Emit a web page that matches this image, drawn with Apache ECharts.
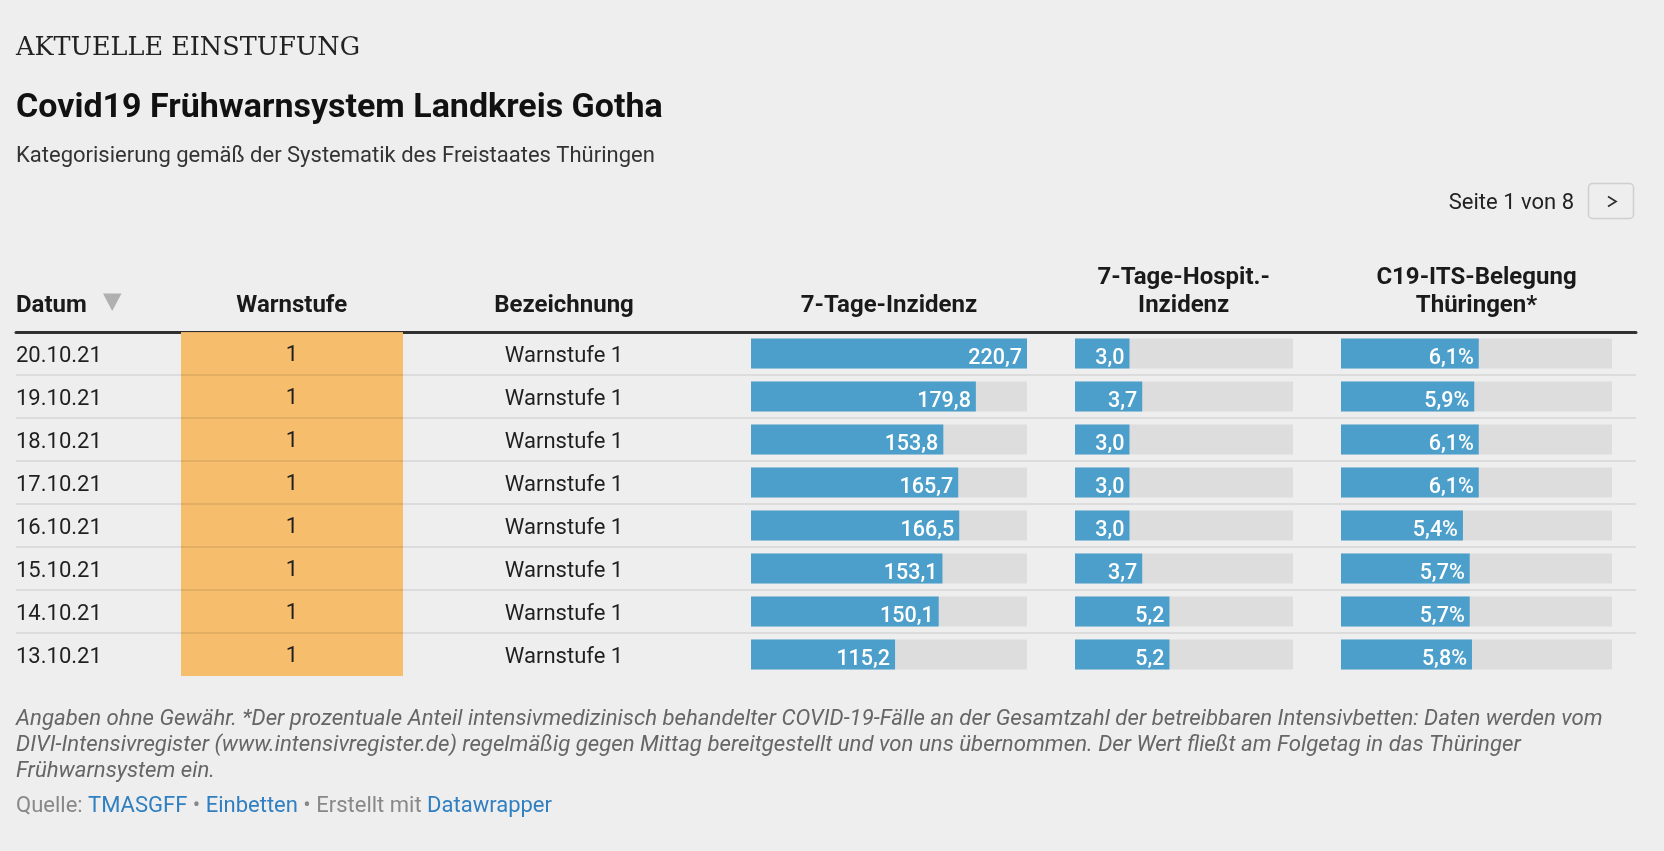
<!DOCTYPE html>
<html>
<head>
    <meta charset="utf-8">
    <script src="https://cdn.jsdelivr.net/npm/echarts@6/dist/echarts.min.js"></script>
    <style>
        html, body { margin: 0; padding: 0; background: #eeeeee; }
    </style>
</head>
<body>
    <div id="main" style="width: 1664px;height:851px;"></div>
    <script type="text/javascript">
        // Tabellendaten (Seite 1 von 8)
        var dates = ['20.10.21', '19.10.21', '18.10.21', '17.10.21', '16.10.21', '15.10.21', '14.10.21', '13.10.21'];
        var warnstufe = [1, 1, 1, 1, 1, 1, 1, 1];
        var bezeichnung = ['Warnstufe 1', 'Warnstufe 1', 'Warnstufe 1', 'Warnstufe 1', 'Warnstufe 1', 'Warnstufe 1', 'Warnstufe 1', 'Warnstufe 1'];
        var inzidenz = [220.7, 179.8, 153.8, 165.7, 166.5, 153.1, 150.1, 115.2];
        var hospit = [3.0, 3.7, 3.0, 3.0, 3.0, 3.7, 5.2, 5.2];
        var itsBelegung = [6.1, 5.9, 6.1, 6.1, 5.4, 5.7, 5.7, 5.8];
        var hospitMax = 12;
        var itsMax = 12;

        var FONT = 'Roboto, "Noto Sans", sans-serif';
        var rowTop = 332, rowH = 43;
        var tableH = rowH * dates.length;

        function deNum(v, suffix) {
            return v.toFixed(1).replace('.', ',') + (suffix || '');
        }

        function barSeries(idx, data, suffix) {
            return {
                type: 'bar',
                xAxisIndex: idx,
                yAxisIndex: idx,
                data: data,
                barWidth: 30,
                silent: true,
                showBackground: true,
                backgroundStyle: { color: '#dddddd' },
                itemStyle: { color: '#4c9fca' },
                label: {
                    show: true,
                    position: 'insideRight',
                    distance: 5,
                    offset: [0, 5],
                    color: '#ffffff',
                    fontFamily: FONT,
                    fontSize: 21.5,
                    fontWeight: 500,
                    formatter: function (p) { return deNum(p.value, suffix); }
                }
            };
        }

        function hiddenCat(idx) {
            return {
                gridIndex: idx, type: 'category', data: dates, inverse: true,
                axisLine: { show: false }, axisTick: { show: false },
                axisLabel: { show: false }, splitLine: { show: false }
            };
        }

        function hiddenVal(idx, max) {
            return { gridIndex: idx, type: 'value', min: 0, max: max, show: false };
        }

        function txt(x, y, text, font, color, align) {
            return {
                type: 'text', x: x, y: y, silent: true,
                style: {
                    text: text, font: font, fill: color || '#1a1a1a',
                    textAlign: align || 'left', textVerticalAlign: 'middle',
                    lineHeight: 28.5
                }
            };
        }

        // Zelltext etwas tiefer setzen, wie im Original
        var cellRich = {
            c: { fontFamily: FONT, fontSize: 22, color: '#1f1f1f', padding: [5, 0, 0, 0] }
        };

        var myChart = echarts.init(document.getElementById('main'));

        myChart.setOption({
            backgroundColor: '#eeeeee',
            animation: false,
            grid: [
                // Linien der Tabelle
                { left: 16, width: 1620, top: rowTop, height: rowH * (dates.length - 1), outerBoundsMode: 'none' },
                // Warnstufe
                { left: 181, width: 222, top: rowTop, height: tableH, outerBoundsMode: 'none' },
                // 7-Tage-Inzidenz
                { left: 751, width: 276, top: rowTop, height: tableH, outerBoundsMode: 'none' },
                // 7-Tage-Hospit.-Inzidenz
                { left: 1075, width: 218, top: rowTop, height: tableH, outerBoundsMode: 'none' },
                // C19-ITS-Belegung
                { left: 1341, width: 271, top: rowTop, height: tableH, outerBoundsMode: 'none' }
            ],
            xAxis: [
                {
                    gridIndex: 0, type: 'value', min: 0, max: 1, position: 'top',
                    axisLine: { show: true, lineStyle: { color: '#333333', width: 3 } },
                    axisTick: { show: false }, axisLabel: { show: false }, splitLine: { show: false }
                },
                hiddenVal(1, 1),
                hiddenVal(2, 'dataMax'),
                hiddenVal(3, hospitMax),
                hiddenVal(4, itsMax)
            ],
            yAxis: [
                {
                    gridIndex: 0, type: 'value', min: 0, max: dates.length - 1, interval: 1,
                    inverse: true, z: 5,
                    axisLine: { show: false }, axisTick: { show: false }, axisLabel: { show: false },
                    splitLine: { show: true, lineStyle: { color: 'rgba(0,0,0,0.075)', width: 2 } }
                },
                {
                    gridIndex: 1, type: 'category', data: dates, inverse: true,
                    axisLine: { show: false }, axisTick: { show: false }, splitLine: { show: false },
                    axisLabel: {
                        interval: 0, margin: 165, align: 'left',
                        formatter: function (v) { return '{c|' + v + '}'; },
                        rich: cellRich
                    }
                },
                {
                    gridIndex: 2, type: 'category', data: dates, inverse: true,
                    axisLine: { show: false }, axisTick: { show: false }, splitLine: { show: false },
                    axisLabel: {
                        interval: 0, margin: 187, align: 'center',
                        formatter: function (v, i) { return '{c|' + bezeichnung[i] + '}'; },
                        rich: cellRich
                    }
                },
                hiddenCat(3),
                hiddenCat(4)
            ],
            series: [
                {
                    type: 'bar',
                    xAxisIndex: 1,
                    yAxisIndex: 1,
                    data: warnstufe,
                    barCategoryGap: '0%',
                    silent: true,
                    itemStyle: { color: '#f5bd6c' },
                    label: {
                        show: true, position: 'inside', color: '#1f1f1f',
                        offset: [0, 2],
                        fontFamily: FONT, fontSize: 22,
                        formatter: '{c}'
                    }
                },
                barSeries(2, inzidenz, ''),
                barSeries(3, hospit, ''),
                barSeries(4, itsBelegung, '%')
            ],
            graphic: [
                txt(16, 48.5, 'AKTUELLE EINSTUFUNG', 'normal 25.5px "DejaVu Serif", serif', '#222222'),
                txt(16, 108.5, 'Covid19 Frühwarnsystem Landkreis Gotha', 'bold 34px ' + FONT, '#111111'),
                txt(16, 156, 'Kategorisierung gemäß der Systematik des Freistaates Thüringen', 'normal 22px ' + FONT, '#333333'),
                txt(1574, 203, 'Seite 1 von 8', 'normal 22px ' + FONT, '#222222', 'right'),
                {
                    type: 'rect', silent: true,
                    shape: { x: 1588.5, y: 183.5, width: 45, height: 35, r: 4 },
                    style: { fill: 'rgba(0,0,0,0)', stroke: '#cfcfcf', lineWidth: 1.5 }
                },
                {
                    type: 'polyline', silent: true,
                    shape: { points: [[1608, 196.5], [1616, 201.5], [1608, 206.5]] },
                    style: { stroke: '#333333', lineWidth: 1.8, fill: null }
                },
                // Spaltenköpfe
                txt(16, 306, 'Datum', 'bold 24px ' + FONT),
                {
                    type: 'polygon', silent: true,
                    shape: { points: [[103, 293.5], [121.5, 293.5], [112.2, 311]] },
                    style: { fill: '#b0b0b0' }
                },
                txt(291.7, 306, 'Warnstufe', 'bold 24px ' + FONT, '#1a1a1a', 'center'),
                txt(564, 306, 'Bezeichnung', 'bold 24px ' + FONT, '#1a1a1a', 'center'),
                txt(889, 306, '7-Tage-Inzidenz', 'bold 24px ' + FONT, '#1a1a1a', 'center'),
                txt(1183.7, 292, '7-Tage-Hospit.-\nInzidenz', 'bold 24px ' + FONT, '#1a1a1a', 'center'),
                txt(1476.5, 292, 'C19-ITS-Belegung\nThüringen*', 'bold 24px ' + FONT, '#1a1a1a', 'center'),
                // Anmerkungen
                txt(16, 719.5, 'Angaben ohne Gewähr. *Der prozentuale Anteil intensivmedizinisch behandelter COVID-19-Fälle an der Gesamtzahl der betreibbaren Intensivbetten: Daten werden vom', 'italic 22.2px ' + FONT, '#666666'),
                txt(16, 745.5, 'DIVI-Intensivregister (www.intensivregister.de) regelmäßig gegen Mittag bereitgestellt und von uns übernommen. Der Wert fließt am Folgetag in das Thüringer', 'italic 22.2px ' + FONT, '#666666'),
                txt(16, 771, 'Frühwarnsystem ein.', 'italic 22.2px ' + FONT, '#666666'),
                {
                    type: 'text', x: 16, y: 806, silent: true,
                    style: {
                        text: '{g|Quelle: }{b|TMASGFF}{g| • }{b|Einbetten}{g| • Erstellt mit }{b|Datawrapper}',
                        font: 'normal 22px ' + FONT,
                        textVerticalAlign: 'middle',
                        rich: {
                            g: { fill: '#888888', font: 'normal 22px ' + FONT },
                            b: { fill: '#2f7fc1', font: 'normal 22px ' + FONT }
                        }
                    }
                }
            ]
        });
    </script>
</body>
</html>
